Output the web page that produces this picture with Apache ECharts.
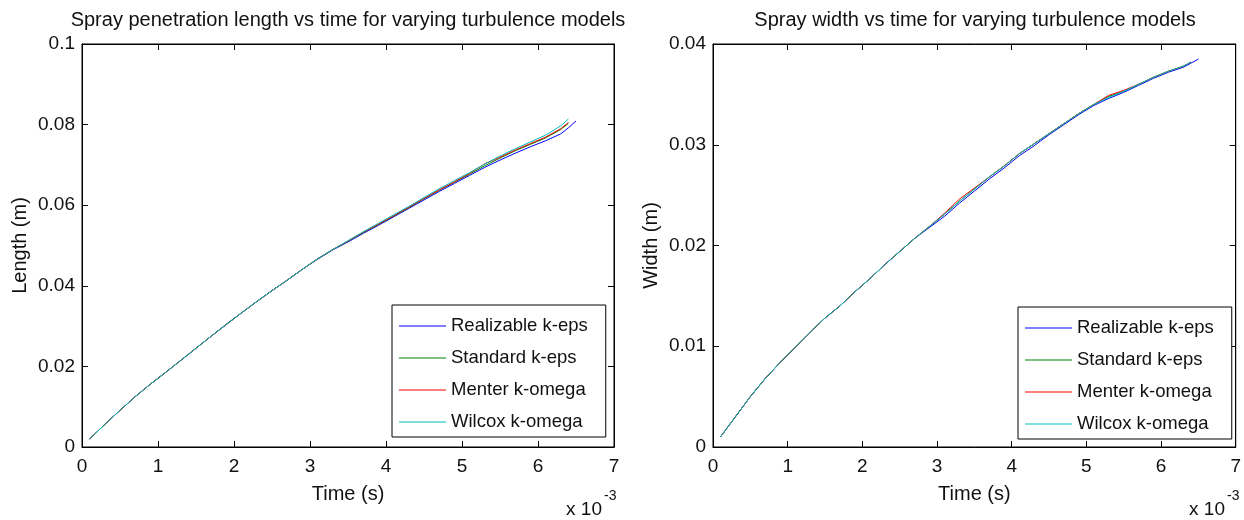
<!DOCTYPE html>
<html>
<head>
<meta charset="utf-8">
<script src="https://cdn.jsdelivr.net/npm/echarts@6/dist/echarts.min.js"></script>
<style>
html,body{margin:0;padding:0;background:#fff;}
#chart{width:1244px;height:520px;}
</style>
</head>
<body>
<div id="chart"></div>
<script>
// ---- data (time in units of 1e-3 s) ----
const timeMs = [0.1,0.3,0.5,0.7,0.9,1.1,1.3,1.5,1.7,1.9,2.1,2.3,2.5,2.7,2.9,3.1,3.3,3.5,3.7,3.9,4.1,4.3,4.5,4.7,4.9,5.1,5.3,5.5,5.7,5.9,6.1,6.3,6.4,6.5];
const seriesNames = ['Realizable k-eps','Standard k-eps','Menter k-omega','Wilcox k-omega'];
const seriesColors = ['#0000ff','#008000','#ff0000','#00bfbf'];

// Spray penetration length (m)
const lenRealizable = [0.0020,0.0056,0.0091,0.0125,0.0156,0.0185,0.0215,0.0245,0.0275,0.0305,0.0333,0.0361,0.0388,0.0414,0.0441,0.0466,0.0489,0.0509,0.0530,0.0550,0.0571,0.0592,0.0613,0.0634,0.0654,0.0674,0.0694,0.0712,0.0729,0.0745,0.0760,0.0777,0.0792,0.0809];
const lenStandard   = [0.0020,0.0056,0.0091,0.0125,0.0156,0.0185,0.0215,0.0245,0.0275,0.0304,0.0333,0.0361,0.0388,0.0414,0.0441,0.0467,0.0490,0.0511,0.0532,0.0552,0.0573,0.0594,0.0616,0.0637,0.0657,0.0677,0.0698,0.0717,0.0735,0.0751,0.0767,0.0788,0.0803,null];
const lenMenter     = [0.0020,0.0056,0.0091,0.0125,0.0156,0.0185,0.0215,0.0245,0.0275,0.0304,0.0333,0.0361,0.0388,0.0414,0.0441,0.0467,0.0490,0.0511,0.0533,0.0553,0.0574,0.0595,0.0617,0.0638,0.0658,0.0679,0.0703,0.0719,0.0737,0.0753,0.0769,0.0790,0.0805,null];
const lenWilcox     = [0.0020,0.0056,0.0091,0.0125,0.0156,0.0185,0.0215,0.0245,0.0275,0.0304,0.0333,0.0361,0.0388,0.0414,0.0441,0.0467,0.0490,0.0512,0.0534,0.0555,0.0576,0.0597,0.0619,0.0641,0.0661,0.0681,0.0702,0.0722,0.0740,0.0757,0.0774,0.0797,0.0814,null];

// Spray width (m)
const widRealizable = [0.0010,0.0030,0.0050,0.0068,0.0084,0.0099,0.0114,0.0128,0.0140,0.0154,0.0167,0.0181,0.0194,0.0207,0.0218,0.0229,0.0242,0.0254,0.0266,0.0277,0.0289,0.0299,0.0310,0.0320,0.0330,0.0339,0.0346,0.0352,0.0359,0.0366,0.0372,0.0377,0.0381,0.0385];
const widStandard   = [0.0010,0.0030,0.0050,0.0068,0.0084,0.0099,0.0114,0.0128,0.0140,0.0154,0.0167,0.0181,0.0194,0.0207,0.0219,0.0231,0.0244,0.0256,0.0268,0.0279,0.0291,0.0301,0.0311,0.0321,0.0331,0.0340,0.0348,0.0353,0.0360,0.0367,0.0373,0.0378,0.0382,null];
const widMenter     = [0.0010,0.0030,0.0050,0.0068,0.0084,0.0099,0.0114,0.0128,0.0140,0.0154,0.0167,0.0181,0.0194,0.0207,0.0219,0.0232,0.0246,0.0257,0.0268,0.0279,0.0291,0.0301,0.0311,0.0321,0.0331,0.0340,0.0349,0.0354,0.0360,0.0367,0.0373,0.0378,0.0382,null];
const widWilcox     = [0.0010,0.0030,0.0050,0.0068,0.0084,0.0099,0.0114,0.0128,0.0140,0.0154,0.0167,0.0181,0.0194,0.0207,0.0219,0.0231,0.0244,0.0256,0.0268,0.0279,0.0291,0.0301,0.0311,0.0321,0.0331,0.0340,0.0347,0.0353,0.0360,0.0367,0.0373,0.0378,0.0382,null];

const xTickLabels = ['0','1','2','3','4','5','6','7'];
const yTickLabelsLen = ['0','0.02','0.04','0.06','0.08','0.1'];
const yTickLabelsWid = ['0','0.01','0.02','0.03','0.04'];

// ---- chart ----
const FONT = "'Liberation Sans', Arial, Helvetica, sans-serif";
const TXT = '#111';
const chart = echarts.init(document.getElementById('chart'), null, {renderer: 'canvas'});

function pairs(vals){
  const out = [];
  for (let i = 0; i < timeMs.length; i++) if (vals[i] !== null) out.push([timeMs[i], vals[i]]);
  return out;
}
function xAxes(gi){
  const base = {gridIndex: gi, type: 'value', min: 0, max: 7, interval: 1, splitLine: {show: false},
    axisLine: {show: true, onZero: false, lineStyle: {color: '#000', width: 1}},
    axisTick: {show: true, inside: true, length: 6, lineStyle: {color: '#000', width: 1}}};
  return [
    Object.assign({}, base, {position: 'bottom',
      axisLabel: {show: true, margin: 10, fontSize: 19, color: TXT, fontFamily: FONT,
        formatter: v => xTickLabels[Math.round(v)]},
      name: 'Time (s)', nameLocation: 'middle', nameGap: 37,
      nameTextStyle: {fontSize: 20, color: TXT, fontFamily: FONT}}),
    Object.assign({}, base, {position: 'top', axisLabel: {show: false}})
  ];
}
function yAxes(gi, max, step, labels, name){
  const base = {gridIndex: gi, type: 'value', min: 0, max: max, interval: step, splitLine: {show: false},
    axisLine: {show: true, onZero: false, lineStyle: {color: '#000', width: 1}},
    axisTick: {show: true, inside: true, length: 6, lineStyle: {color: '#000', width: 1}}};
  return [
    Object.assign({}, base, {position: 'left',
      axisLabel: {show: true, margin: 7, fontSize: 19, color: TXT, fontFamily: FONT,
        formatter: v => labels[Math.round(v / step)]},
      name: name, nameLocation: 'middle', nameGap: 52, nameRotate: 90,
      nameTextStyle: {fontSize: 20, color: TXT, fontFamily: FONT}}),
    Object.assign({}, base, {position: 'right', axisLabel: {show: false}})
  ];
}
function legend(left, top){
  return {orient: 'vertical', left: left, top: top, padding: [11, 18, 5, 7], itemGap: 12,
    icon: 'rect', itemWidth: 47, itemHeight: 1, borderColor: '#000', borderWidth: 1, borderRadius: 0,
    backgroundColor: '#fff', selectedMode: false,
    textStyle: {fontSize: 18.5, color: TXT, fontFamily: FONT, lineHeight: 20, height: 20},
    data: seriesNames};
}
const lenData = [lenRealizable, lenStandard, lenMenter, lenWilcox];
const widData = [widRealizable, widStandard, widMenter, widWilcox];
const series = [];
lenData.forEach((d, i) => series.push({type: 'line', name: seriesNames[i], xAxisIndex: 0, yAxisIndex: 0,
  data: pairs(d), symbol: 'none', showSymbol: false, lineStyle: {color: seriesColors[i], width: 1},
  itemStyle: {color: seriesColors[i]}, z: 2 + i}));
widData.forEach((d, i) => series.push({type: 'line', name: seriesNames[i], xAxisIndex: 2, yAxisIndex: 2,
  data: pairs(d), symbol: 'none', showSymbol: false, lineStyle: {color: seriesColors[i], width: 1},
  itemStyle: {color: seriesColors[i]}, z: 2 + i}));

const option = {
  animation: false,
  backgroundColor: '#fff',
  textStyle: {fontFamily: FONT},
  grid: [
    {left: 82, right: 1244 - 614, top: 44, bottom: 520 - 447, show: true, borderColor: '#000', borderWidth: 1, backgroundColor: '#fff'},
    {left: 713, right: 1244 - 1238, top: 44, bottom: 520 - 447, show: true, borderColor: '#000', borderWidth: 1, backgroundColor: '#fff'}
  ],
  xAxis: xAxes(0).concat(xAxes(1)),
  yAxis: yAxes(0, 0.1, 0.02, yTickLabelsLen, 'Length (m)').concat(yAxes(1, 0.04, 0.01, yTickLabelsWid, 'Width (m)')),
  legend: [legend(392, 305), legend(1018, 307)],
  graphic: [
    {type: 'text', x: 348, y: 20, style: {text: 'Spray penetration length vs time for varying turbulence models', fontSize: 20, fontFamily: FONT, fill: TXT, textAlign: 'center', textVerticalAlign: 'middle'}},
    {type: 'text', x: 975, y: 20, style: {text: 'Spray width vs time for varying turbulence models', fontSize: 20, fontFamily: FONT, fill: TXT, textAlign: 'center', textVerticalAlign: 'middle'}},
    {type: 'text', x: 602, y: 510, style: {text: 'x 10', fontSize: 19, fontFamily: FONT, fill: TXT, textAlign: 'right', textVerticalAlign: 'middle'}},
    {type: 'text', x: 604, y: 496, style: {text: '-3', fontSize: 14, fontFamily: FONT, fill: TXT, textAlign: 'left', textVerticalAlign: 'middle'}},
    {type: 'text', x: 1225, y: 510, style: {text: 'x 10', fontSize: 19, fontFamily: FONT, fill: TXT, textAlign: 'right', textVerticalAlign: 'middle'}},
    {type: 'text', x: 1227, y: 496, style: {text: '-3', fontSize: 14, fontFamily: FONT, fill: TXT, textAlign: 'left', textVerticalAlign: 'middle'}}
  ],
  series: series
};
chart.setOption(option);
</script>
</body>
</html>
